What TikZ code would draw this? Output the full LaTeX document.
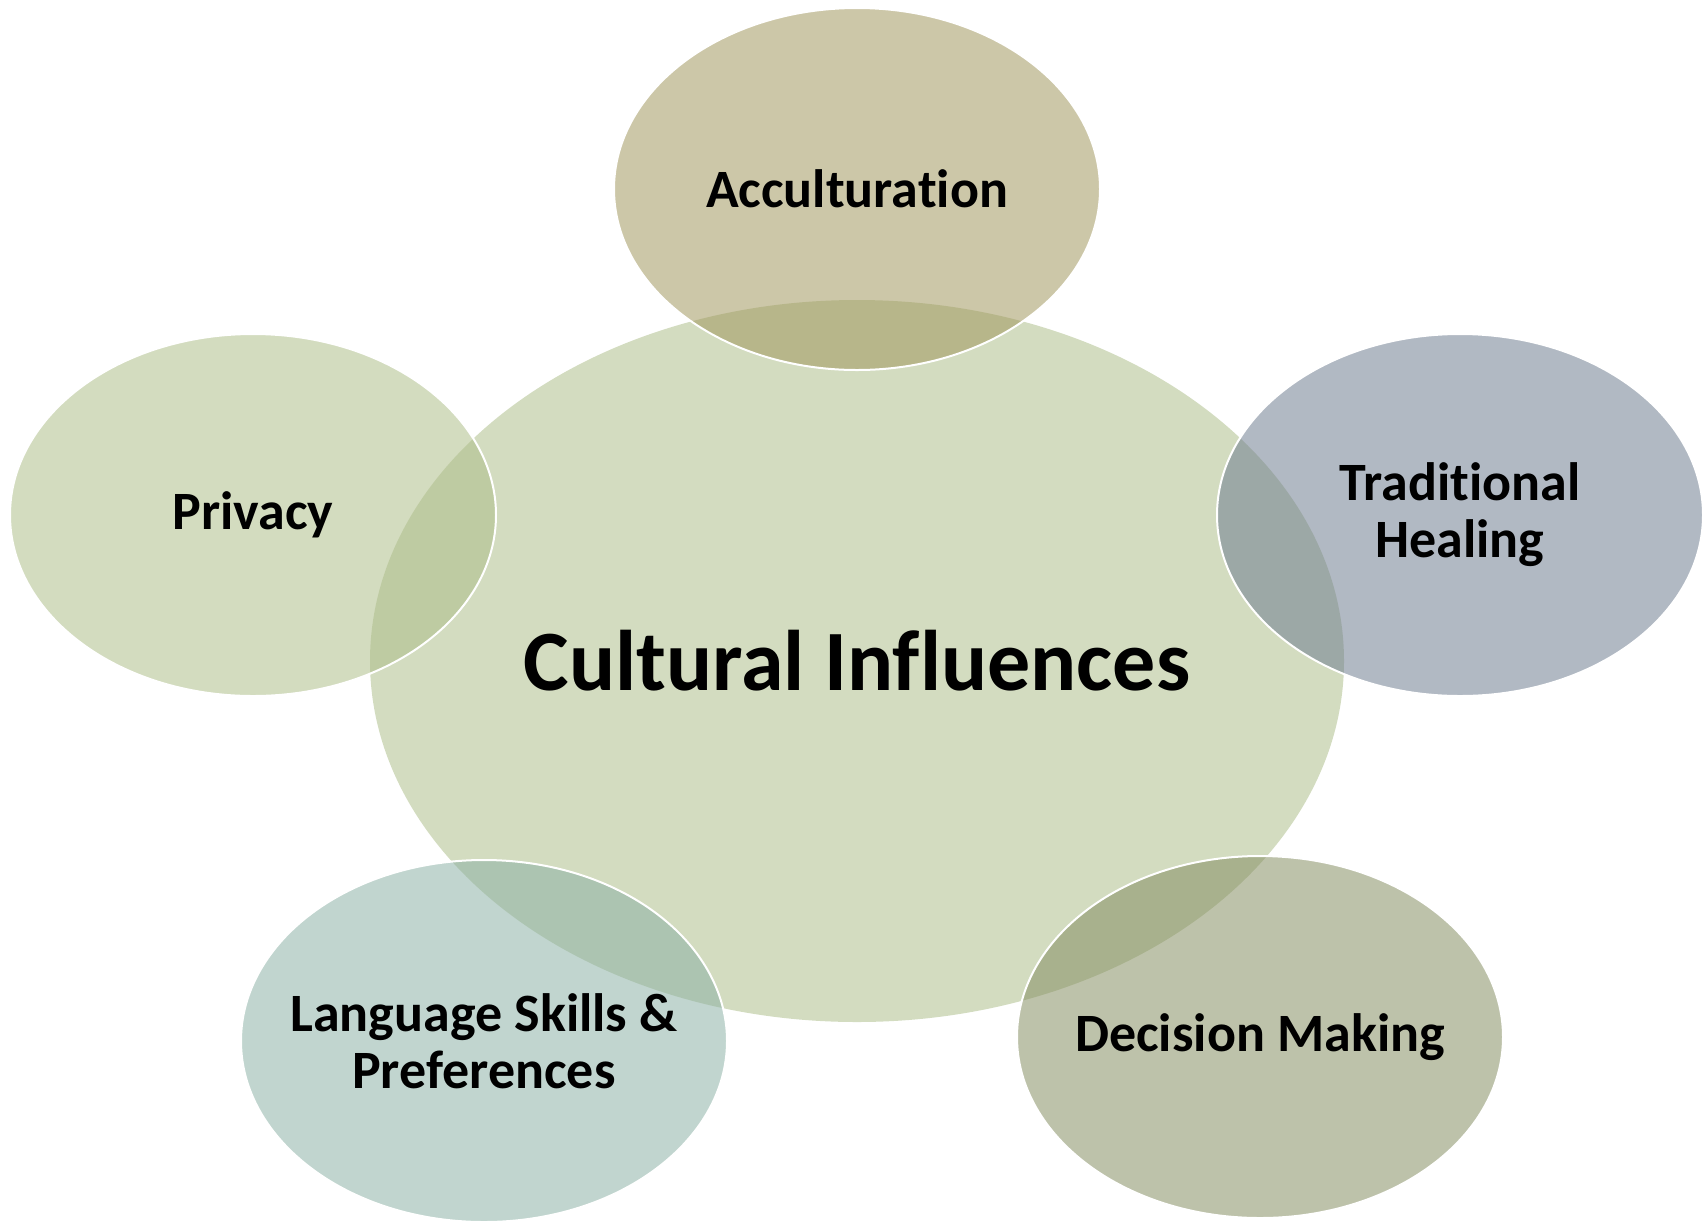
\documentclass[tikz,border=0pt]{standalone}
\usepackage{fontspec}
\setmainfont{Carlito}[Ligatures=NoCommon]
\usetikzlibrary{shapes.geometric}

\definecolor{hubfill}{RGB}{211,220,192}
\definecolor{accfill}{RGB}{161,151,94}
\definecolor{privfill}{RGB}{174,190,137}
\definecolor{tradfill}{RGB}{111,125,144}
\definecolor{langfill}{RGB}{140,177,166}
\definecolor{decfill}{RGB}{133,142,98}

\tikzset{
  hub/.style={ellipse, fill=hubfill, minimum width=974pt, minimum height=722pt, inner sep=0pt,
    font=\bfseries\fontsize{86}{94}\selectfont},
  petal/.style={ellipse, draw=white, line width=2pt, fill opacity=0.54, text opacity=1,
    minimum width=486pt, minimum height=362pt, inner xsep=-80pt, inner ysep=0pt, align=center,
    font=\bfseries\fontsize{54}{57}\selectfont},
}

\begin{document}
\begin{tikzpicture}[x=1pt,y=1pt,yscale=-1,xscale=1]
            \useasboundingbox (0,0) rectangle (1705,1224);
            \node[hub] (hub) at (857,661) {Cultural Influences};
            \node[petal, fill=accfill] (accult) at (857,189) {Acculturation};
            \node[petal, fill=privfill] (privacy) at (253,515) {Privacy};
            \node[petal, fill=tradfill] (tradheal) at (1460,515) {Traditional\\Healing};
            \node[petal, fill=langfill] (langpref) at (484,1041) {Language Skills \&\\Preferences};
            \node[petal, fill=decfill] (decision) at (1260,1037) {Decision Making};
        \end{tikzpicture}
\end{document}
